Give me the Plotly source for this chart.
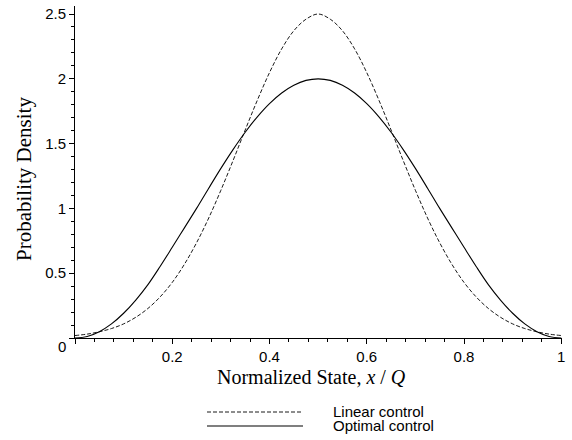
import plotly.graph_objects as go

# ---- data ----
x_state = [0.000, 0.025, 0.050, 0.075, 0.100, 0.125, 0.150, 0.175, 0.200, 0.225,
           0.250, 0.275, 0.300, 0.325, 0.350, 0.375, 0.400, 0.425, 0.450, 0.475,
           0.500, 0.525, 0.550, 0.575, 0.600, 0.625, 0.650, 0.675, 0.700, 0.725,
           0.750, 0.775, 0.800, 0.825, 0.850, 0.875, 0.900, 0.925, 0.950, 0.975, 1.000]

linear_control = [0.019, 0.030, 0.048, 0.073, 0.109, 0.160, 0.228, 0.317, 0.429, 0.569,
                  0.735, 0.926, 1.140, 1.369, 1.605, 1.835, 2.048, 2.231, 2.371, 2.460,
                  2.500, 2.460, 2.371, 2.231, 2.048, 1.835, 1.605, 1.369, 1.140, 0.926,
                  0.735, 0.569, 0.429, 0.317, 0.228, 0.160, 0.109, 0.073, 0.048, 0.030, 0.019]

optimal_control = [0.000, 0.012, 0.049, 0.109, 0.191, 0.293, 0.412, 0.552, 0.700, 0.850,
                   1.000, 1.156, 1.309, 1.454, 1.588, 1.707, 1.809, 1.891, 1.951, 1.988,
                   2.000, 1.988, 1.951, 1.891, 1.809, 1.707, 1.588, 1.454, 1.309, 1.156,
                   1.000, 0.850, 0.700, 0.552, 0.412, 0.293, 0.191, 0.109, 0.049, 0.012, 0.000]

x_tickvals = [0, 0.2, 0.4, 0.6, 0.8, 1]
x_ticktext = ["", "0.2", "0.4", "0.6", "0.8", "1"]
y_tickvals = [0, 0.5, 1, 1.5, 2, 2.5]
y_ticktext = ["", "0.5", "1", "1.5", "2", "2.5"]
series_names = ["Linear control", "Optimal control"]
x_title = "Normalized State, <i>x</i> / <i>Q</i>"
y_title = "Probability Density"

# ---- layout geometry (pixels) ----
W, H = 572, 440
L, R, T, B = 75, 10, 6, 102
PW, PH = W - L - R, H - T - B
X_MAX = 1.0015

def px_x(px):
    return (px - L) / PW

def px_y(py):
    return (H - B - py) / PH

SANS = "Liberation Sans, Arial, sans-serif"
SERIF = "Liberation Serif, Times New Roman, serif"

fig = go.Figure()
fig.add_trace(go.Scatter(x=x_state, y=linear_control, mode="lines", name=series_names[0],
                         line=dict(color="black", width=0.9, dash="4px,2px", shape="spline"),
                         showlegend=False))
fig.add_trace(go.Scatter(x=x_state, y=optimal_control, mode="lines", name=series_names[1],
                         line=dict(color="black", width=1.1, shape="spline"),
                         showlegend=False))

axis_common = dict(showline=True, linecolor="black", linewidth=1, showgrid=False,
                   zeroline=False, ticks="outside", ticklen=5, tickcolor="black",
                   tickwidth=1, tickfont=dict(family=SANS, size=15, color="black"))

fig.update_xaxes(range=[0, X_MAX], tickvals=x_tickvals, ticktext=x_ticktext,
                 minor=dict(dtick=0.04, ticks="outside", ticklen=3, tickcolor="black"),
                 **axis_common)
fig.update_yaxes(range=[0, 2.562], tickvals=y_tickvals, ticktext=y_ticktext,
                 minor=dict(dtick=0.1, ticks="outside", ticklen=3, tickcolor="black"),
                 **axis_common)

annotations = [
    # shared origin label
    dict(x=px_x(62), y=px_y(347), xref="paper", yref="paper", text="0",
         showarrow=False, font=dict(family=SANS, size=15, color="black"),
         xanchor="center", yanchor="middle"),
    # axis titles
    dict(x=px_x(311), y=px_y(365), xref="paper", yref="paper", text=x_title,
         showarrow=False, font=dict(family=SERIF, size=20, color="black"),
         xanchor="center", yanchor="top", borderpad=0),
    dict(x=px_x(24), y=px_y(179), xref="paper", yref="paper", text=y_title,
         textangle=-90, showarrow=False, font=dict(family=SERIF, size=21, color="black"),
         xanchor="center", yanchor="middle"),
]
shapes = []
legend_rows = [(412, "4px,2px", 0.9), (426, "solid", 1.1)]
for name, (py, dash, w) in zip(series_names, legend_rows):
    shapes.append(dict(type="line", xref="paper", yref="paper",
                       x0=px_x(207), x1=px_x(303), y0=px_y(py), y1=px_y(py),
                       line=dict(color="black", width=w, dash=dash)))
    annotations.append(dict(x=px_x(332), y=px_y(py - 1), xref="paper", yref="paper",
                            text=name, showarrow=False, xanchor="left", yanchor="middle",
                            borderpad=0,
                            font=dict(family=SANS, size=15, color="black")))

fig.update_layout(width=W, height=H, margin=dict(l=L, r=R, t=T, b=B),
                  paper_bgcolor="white", plot_bgcolor="white",
                  annotations=annotations, shapes=shapes, showlegend=False)

fig.write_html("out.html", config={"displayModeBar": False},
               post_script="document.body.style.margin='0px';")
